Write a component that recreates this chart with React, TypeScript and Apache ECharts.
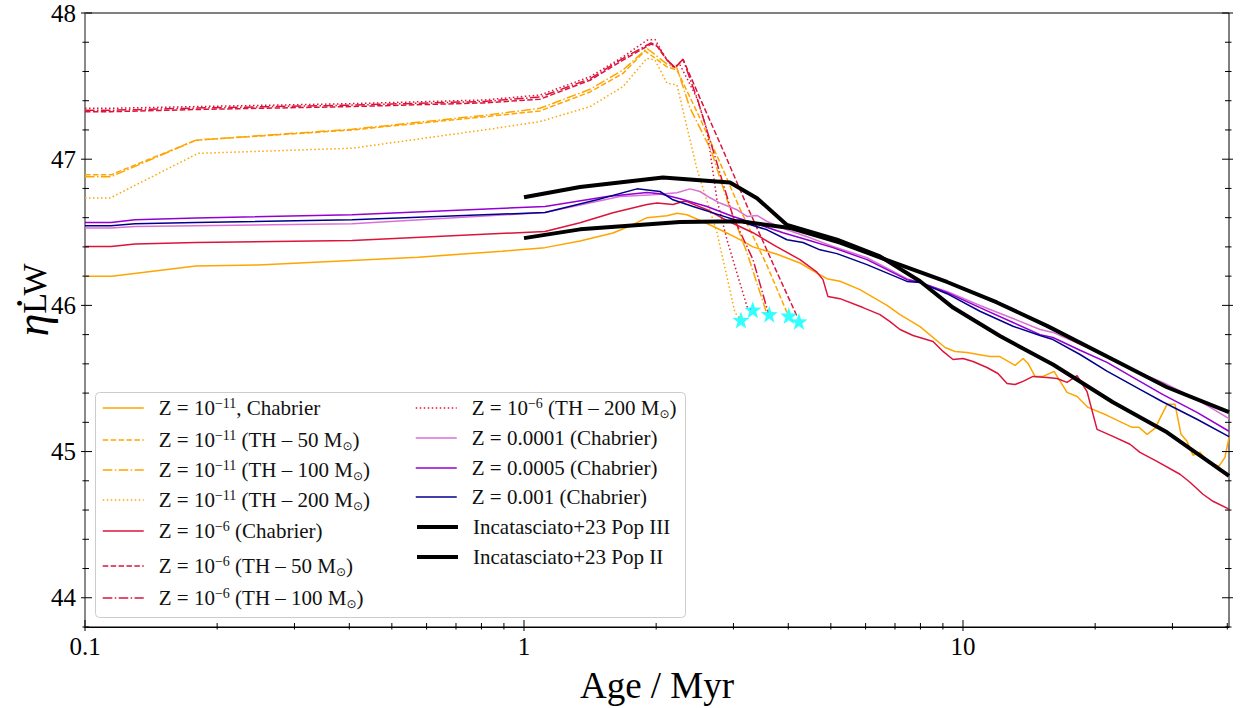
import React, { useEffect, useRef } from 'react';
import * as echarts from 'echarts';

const FONT = '"Liberation Serif", "DejaVu Serif", serif';

const X_MIN = 0.1;
const X_MAX = 40.36;
const Y_MIN = 43.8;
const Y_MAX = 48;

const xMajorTicks = [0.1, 1, 10];
const xTickLabels = ['0.1', '1', '10'];
const xMinorTicks = [0.2, 0.3, 0.4, 0.5, 0.6, 0.7, 0.8, 0.9, 2, 3, 4, 5, 6, 7, 8, 9, 20, 30, 40];
const yMajorTicks = [44, 45, 46, 47, 48];
const yTickLabels = ['44', '45', '46', '47', '48'];
const yMinorTicks = [43.8, 44.2, 44.4, 44.6, 44.8, 45.2, 45.4, 45.6, 45.8, 46.2, 46.4, 46.6, 46.8, 47.2, 47.4, 47.6, 47.8];

// ---- series data: [age (Myr), eta_LW] ----
const z11Chabrier = [[0.1,46.20],[0.115,46.20],[0.179,46.27],[0.248,46.276],[0.574,46.33],[0.891,46.37],[1.116,46.395],[1.342,46.44],[1.595,46.495],[1.75,46.545],[1.906,46.60],[2.117,46.613],[2.231,46.63],[2.351,46.62],[2.611,46.56],[2.90,46.495],[3.105,46.45],[3.324,46.40],[3.77,46.35],[4.253,46.29],[4.649,46.22],[4.925,46.18],[5.246,46.165],[5.826,46.108],[6.713,46.0],[7.187,45.937],[7.983,45.855],[9.103,45.712],[9.591,45.685],[10.21,45.678],[11.52,45.65],[12.14,45.65],[13.14,45.589],[13.70,45.637],[14.07,45.603],[14.59,45.514],[15.21,45.514],[16.12,45.548],[17.26,45.405],[18.19,45.377],[19.27,45.302],[21.28,45.248],[24.27,45.166],[25.17,45.166],[26.25,45.118],[27.37,45.159],[29.16,45.323],[30.41,45.323],[31.38,45.118],[32.38,45.07],[33.41,44.975],[34.66,44.995],[36.14,44.927],[38.29,44.90],[39.52,44.96],[40.36,45.097]];
const z11TH50 = [[0.1,46.893],[0.1146,46.893],[0.179,47.13],[0.406,47.20],[0.811,47.29],[1.087,47.33],[1.414,47.46],[1.681,47.587],[1.886,47.741],[2.117,47.632],[2.231,47.61],[2.517,47.28],[2.766,47.008],[3.105,46.66],[3.578,46.272],[3.972,45.951]];
const z11TH100 = [[0.1,46.88],[0.1146,46.88],[0.179,47.13],[0.406,47.205],[0.811,47.30],[1.087,47.348],[1.414,47.478],[1.681,47.61],[1.906,47.758],[2.117,47.65],[2.231,47.623],[2.388,47.35],[2.667,47.063],[2.90,46.722],[3.221,46.36],[3.56,45.96]];
const z11TH200 = [[0.1,46.734],[0.114,46.734],[0.181,47.04],[0.406,47.075],[0.811,47.20],[1.087,47.257],[1.414,47.36],[1.681,47.496],[1.809,47.61],[1.906,47.69],[1.988,47.678],[2.117,47.52],[2.231,47.507],[2.351,47.22],[2.478,46.93],[2.752,46.497],[3.024,45.951],[3.10,45.91]];
const z6Chabrier = [[0.1,46.403],[0.1146,46.403],[0.13,46.42],[0.179,46.43],[0.406,46.444],[1.116,46.506],[1.342,46.565],[1.595,46.633],[1.906,46.69],[2.009,46.70],[2.185,46.69],[2.303,46.71],[2.351,46.71],[2.611,46.654],[2.946,46.57],[3.324,46.497],[3.77,46.40],[4.253,46.313],[4.649,46.227],[4.798,46.176],[4.925,46.06],[5.246,46.046],[5.918,45.985],[6.471,45.937],[6.82,45.889],[7.187,45.835],[7.695,45.794],[8.546,45.753],[9.007,45.685],[9.49,45.63],[10.0,45.637],[10.54,45.616],[11.34,45.575],[12.01,45.534],[12.6,45.466],[13.14,45.459],[13.7,45.48],[14.44,45.514],[15.54,45.507],[16.37,45.50],[17.26,45.473],[18.19,45.52],[19.17,45.41],[20.2,45.152],[21.96,45.104],[24.01,45.05],[25.3,44.995],[27.66,44.933],[31.21,44.845],[32.89,44.79],[35.21,44.708],[37.11,44.66],[40.36,44.606]];
const z6TH50 = [[0.1,47.325],[0.1146,47.325],[0.18,47.34],[0.406,47.36],[0.811,47.385],[1.087,47.41],[1.414,47.54],[1.681,47.678],[1.946,47.787],[2.009,47.773],[2.117,47.678],[2.208,47.625],[2.303,47.683],[2.517,47.418],[2.84,47.063],[3.221,46.681],[3.692,46.285],[4.187,45.926]];
const z6TH100 = [[0.1,47.335],[0.1146,47.335],[0.18,47.35],[0.406,47.37],[0.811,47.395],[1.087,47.425],[1.414,47.55],[1.681,47.69],[1.946,47.795],[2.009,47.78],[2.117,47.68],[2.208,47.628],[2.303,47.683],[2.49,47.40],[2.695,47.063],[2.993,46.608],[3.324,46.313],[3.60,45.95]];
const z6TH200 = [[0.1,47.348],[0.1146,47.348],[0.18,47.36],[0.406,47.38],[0.811,47.405],[1.087,47.439],[1.414,47.564],[1.681,47.70],[1.906,47.814],[1.988,47.819],[2.117,47.678],[2.185,47.632],[2.267,47.644],[2.351,47.553],[2.478,47.416],[2.611,47.20],[2.752,46.722],[2.90,46.449],[3.221,45.992],[3.30,45.97]];
const z1e4Chabrier = [[0.1,46.529],[0.1146,46.529],[0.13,46.54],[0.406,46.558],[1.116,46.635],[1.654,46.745],[1.967,46.756],[2.231,46.77],[2.388,46.797],[2.517,46.779],[2.653,46.736],[2.796,46.70],[3.056,46.654],[3.221,46.608],[3.395,46.615],[3.578,46.574],[3.972,46.517],[4.412,46.47],[5.057,46.403],[6.043,46.326],[7.456,46.183],[9.196,46.096],[10.93,45.999],[13.0,45.91],[14.98,45.835],[16.03,45.815],[18.48,45.733],[21.28,45.65],[24.39,45.557],[28.55,45.473],[34.12,45.357],[40.36,45.225]];
const z5e4Chabrier = [[0.1,46.567],[0.1146,46.567],[0.13,46.586],[0.179,46.597],[0.406,46.62],[1.116,46.676],[1.546,46.745],[1.906,46.772],[2.041,46.763],[2.267,46.729],[2.611,46.676],[2.993,46.608],[3.449,46.55],[3.89,46.497],[4.412,46.449],[5.057,46.395],[6.043,46.313],[7.456,46.176],[7.983,46.158],[9.196,46.088],[10.93,45.985],[13.0,45.883],[14.98,45.80],[16.03,45.78],[18.48,45.693],[21.28,45.61],[24.39,45.507],[28.55,45.39],[34.12,45.268],[40.36,45.139]];
const z1e3Chabrier = [[0.1,46.545],[0.1146,46.545],[0.13,46.558],[0.179,46.567],[0.406,46.586],[1.116,46.635],[1.467,46.722],[1.809,46.797],[2.041,46.779],[2.185,46.722],[2.427,46.676],[2.695,46.633],[3.105,46.574],[3.578,46.517],[3.972,46.449],[4.32,46.43],[4.723,46.38],[5.164,46.354],[6.043,46.279],[7.456,46.164],[7.983,46.156],[9.196,46.08],[10.93,45.96],[13.0,45.857],[14.98,45.794],[16.03,45.766],[18.48,45.664],[21.28,45.55],[25.3,45.425],[28.55,45.339],[34.12,45.221],[40.36,45.102]];
const incaPopIII = [[1.0,46.74],[1.342,46.81],[2.073,46.875],[2.946,46.84],[3.395,46.733],[3.972,46.55],[5.164,46.45],[6.471,46.335],[7.983,46.165],[9.49,45.985],[12.14,45.79],[16.03,45.596],[21.96,45.337],[29.16,45.132],[40.36,44.833]];
const incaPopII = [[1.0,46.46],[1.342,46.52],[2.267,46.57],[3.105,46.575],[4.035,46.53],[5.246,46.43],[6.713,46.31],[9.196,46.16],[11.95,46.02],[15.54,45.86],[21.96,45.63],[29.16,45.44],[40.36,45.27]];
const starAges = [3.12, 3.32, 3.62, 4.01, 4.23];
const starEta = [45.90, 45.97, 45.94, 45.93, 45.89];

const ORANGE = '#FFA500';
const CRIMSON = '#DC143C';
const ORCHID = '#DA70D6';
const DVIOLET = '#9400D3';
const NAVY = '#00008B';

const DASHED = [5.5, 2.4];
const DASHDOT = [9.6, 2.4, 1.5, 2.4];
const DOTTED = [1.5, 2.5];

const seriesDefs = [
  { name: 'Z = 10⁻¹¹, Chabrier', data: z11Chabrier, color: ORANGE, type: 'solid', width: 1.5 },
  { name: 'Z = 10⁻¹¹ (TH – 50 M⊙)', data: z11TH50, color: ORANGE, type: DASHED, width: 1.5 },
  { name: 'Z = 10⁻¹¹ (TH – 100 M⊙)', data: z11TH100, color: ORANGE, type: DASHDOT, width: 1.5 },
  { name: 'Z = 10⁻¹¹ (TH – 200 M⊙)', data: z11TH200, color: ORANGE, type: DOTTED, width: 1.5 },
  { name: 'Z = 10⁻⁶ (Chabrier)', data: z6Chabrier, color: CRIMSON, type: 'solid', width: 1.5 },
  { name: 'Z = 10⁻⁶ (TH – 50 M⊙)', data: z6TH50, color: CRIMSON, type: DASHED, width: 1.5 },
  { name: 'Z = 10⁻⁶ (TH – 100 M⊙)', data: z6TH100, color: CRIMSON, type: DASHDOT, width: 1.5 },
  { name: 'Z = 10⁻⁶ (TH – 200 M⊙)', data: z6TH200, color: CRIMSON, type: DOTTED, width: 1.5 },
  { name: 'Z = 0.0001 (Chabrier)', data: z1e4Chabrier, color: ORCHID, type: 'solid', width: 1.5 },
  { name: 'Z = 0.0005 (Chabrier)', data: z5e4Chabrier, color: DVIOLET, type: 'solid', width: 1.5 },
  { name: 'Z = 0.001 (Chabrier)', data: z1e3Chabrier, color: NAVY, type: 'solid', width: 1.5 },
  { name: 'Incatasciato+23 Pop III', data: incaPopIII, color: '#000000', type: 'solid', width: 4 },
  { name: 'Incatasciato+23 Pop II', data: incaPopII, color: '#000000', type: 'solid', width: 4 },
];

const col1Rows = [408, 440, 470, 500, 531, 566, 598];
const col2Rows = [408, 438, 468, 497, 527, 557];

const yTitle = '{eta|η̇}{sub|LW}';

const richName = (name: string) =>
  name.replace('⁻¹¹', '{sup|−11}').replace('⁻⁶', '{sup|−6}').replace('⊙', '{sub|⊙}');

const STAR = 'path://M0,-10 L2.35,-3.24 L9.51,-3.09 L3.8,1.24 L5.88,8.09 L0,4 L-5.88,8.09 L-3.8,1.24 L-9.51,-3.09 L-2.35,-3.24 Z';

function buildOption() {
  const legendText = {
    fontFamily: FONT,
    fontSize: 21,
    color: '#111',
    lineHeight: 24,
    padding: [0, 0, 0, 10],
    rich: {
      sup: { fontFamily: FONT, fontSize: 14, lineHeight: 14, verticalAlign: 'top', color: '#111' },
      sub: { fontFamily: '"DejaVu Sans", sans-serif', fontSize: 12, lineHeight: 12, verticalAlign: 'bottom', color: '#111' },
    },
  };
  const legends: any[] = [];
  seriesDefs.forEach((s, i) => {
    const inFirst = i < 7;
    const cy = inFirst ? col1Rows[i] : col2Rows[i - 7];
    legends.push({
      data: [s.name],
      left: inFirst ? 102 : 415,
      top: cy - 12,
      orient: 'vertical',
      padding: 0,
      itemWidth: 41,
      itemHeight: 14,
      selectedMode: false,
      itemStyle: { opacity: 0 },
      lineStyle: { width: 'inherit', type: 'inherit', opacity: 1 },
      formatter: (n: string) => richName(n),
      textStyle: legendText,
    });
  });

  const lineSeries = seriesDefs.map((s) => ({
    name: s.name,
    type: 'line',
    data: s.data,
    symbol: 'none',
    showSymbol: false,
    smooth: false,
    z: s.width > 2 ? 4 : 3,
    lineStyle: { color: s.color, width: s.width, type: s.type as any, cap: 'butt' },
    itemStyle: { color: s.color },
    emphasis: { disabled: true },
  }));

  const xTickData = [
    ...xMajorTicks.map((v) => [v, Y_MIN, 1]),
    ...xMinorTicks.map((v) => [v, Y_MIN, 0]),
  ];
  const yTickData = [
    ...yMajorTicks.map((v) => [X_MIN, v, 1]),
    ...yMinorTicks.map((v) => [X_MIN, v, 0]),
  ];

  return {
    animation: false,
    backgroundColor: '#ffffff',
    grid: {
      left: 85, right: 13, top: 13, bottom: 81,
      containLabel: false,
      outerBoundsMode: 'none',
      show: true, borderColor: '#000', borderWidth: 1, backgroundColor: 'transparent',
    },
    graphic: [
      {
        type: 'rect',
        z: 1,
        shape: { x: 95.5, y: 392.5, width: 590, height: 225, r: 4 },
        style: { fill: 'rgba(255,255,255,0.85)', stroke: '#cccccc', lineWidth: 1 },
      },
      {
        type: 'text',
        z: 5,
        x: 32,
        y: 300,
        rotation: Math.PI / 2,
        style: {
          text: yTitle,
          align: 'center',
          verticalAlign: 'middle',
          fill: '#000',
          rich: {
            eta: { fontFamily: FONT, fontSize: 46, fontStyle: 'italic', fill: '#000', lineHeight: 38 },
            sub: { fontFamily: FONT, fontSize: 34, fill: '#000', verticalAlign: 'bottom', lineHeight: 30 },
          },
        },
      },
    ],
    legend: legends,
    xAxis: {
      type: 'log',
      logBase: 10,
      min: X_MIN,
      max: X_MAX,
      axisLine: { show: true, lineStyle: { color: '#000', width: 1 } },
      axisTick: { show: false },
      splitLine: { show: false },
      minorTick: { show: false },
      axisLabel: {
        fontFamily: FONT,
        fontSize: 25,
        color: '#000',
        margin: 7,
        showMaxLabel: false,
        formatter: (v: number) => {
          const i = xMajorTicks.findIndex((t) => Math.abs(Math.log10(v) - Math.log10(t)) < 1e-6);
          return i >= 0 ? xTickLabels[i] : '';
        },
      },
      name: 'Age / Myr',
      nameLocation: 'middle',
      nameGap: 38,
      nameTextStyle: { fontFamily: FONT, fontSize: 37, color: '#000', lineHeight: 40 },
    },
    yAxis: {
      type: 'value',
      min: Y_MIN,
      max: Y_MAX,
      interval: 0.2,
      axisLine: { show: true, lineStyle: { color: '#8a8a8a', width: 2 } },
      axisTick: { show: false },
      splitLine: { show: false },
      axisLabel: {
        fontFamily: FONT,
        fontSize: 25,
        color: '#000',
        margin: 9,
        formatter: (v: number) => {
          const i = yMajorTicks.findIndex((t) => Math.abs(v - t) < 1e-6);
          return i >= 0 ? yTickLabels[i] : '';
        },
      },
    },
    series: [
      ...lineSeries,
      {
        type: 'scatter',
        name: 'stars',
        data: starAges.map((t, i) => [t, starEta[i]]),
        symbol: STAR,
        symbolSize: 17,
        z: 6,
        itemStyle: { color: '#00FFFF' },
        emphasis: { disabled: true },
      },
      {
        type: 'custom',
        name: 'xticks',
        coordinateSystem: 'cartesian2d',
        clip: false,
        silent: true,
        z: 10,
        data: xTickData,
        encode: { x: 0, y: 1 },
        renderItem: (params: any, api: any) => {
          const p = api.coord([api.value(0), Y_MIN]);
          const major = api.value(2) === 1;
          const inn = major ? 7 : 4;
          const out = major ? 4 : 2.5;
          return {
            type: 'line',
            shape: { x1: p[0], y1: p[1] + out, x2: p[0], y2: p[1] - inn },
            style: { stroke: '#000', lineWidth: 1 },
          };
        },
      },
      {
        type: 'custom',
        name: 'yticks',
        coordinateSystem: 'cartesian2d',
        clip: false,
        silent: true,
        z: 10,
        data: yTickData,
        encode: { x: 0, y: 1 },
        renderItem: (params: any, api: any) => {
          const v = api.value(1);
          const p = api.coord([X_MIN, v]);
          const q = api.coord([X_MAX, v]);
          const major = api.value(2) === 1;
          const inn = major ? 7 : 4;
          const out = major ? 4 : 2.5;
          return {
            type: 'group',
            children: [
              { type: 'line', shape: { x1: p[0] - out, y1: p[1], x2: p[0] + inn, y2: p[1] }, style: { stroke: '#000', lineWidth: 1 } },
              { type: 'line', shape: { x1: q[0] - inn, y1: q[1], x2: q[0] + out, y2: q[1] }, style: { stroke: '#000', lineWidth: 1 } },
            ],
          };
        },
      },
    ],
  };
}

export default function App() {
  const ref = useRef<HTMLDivElement>(null);
  useEffect(() => {
    if (!ref.current) return;
    const chart = echarts.init(ref.current, undefined, { renderer: 'svg' });
    chart.setOption(buildOption() as any);
    return () => chart.dispose();
  }, []);
  return <div ref={ref} style={{ position: 'absolute', left: 0, top: 0, width: 1242, height: 708 }} />;
}
